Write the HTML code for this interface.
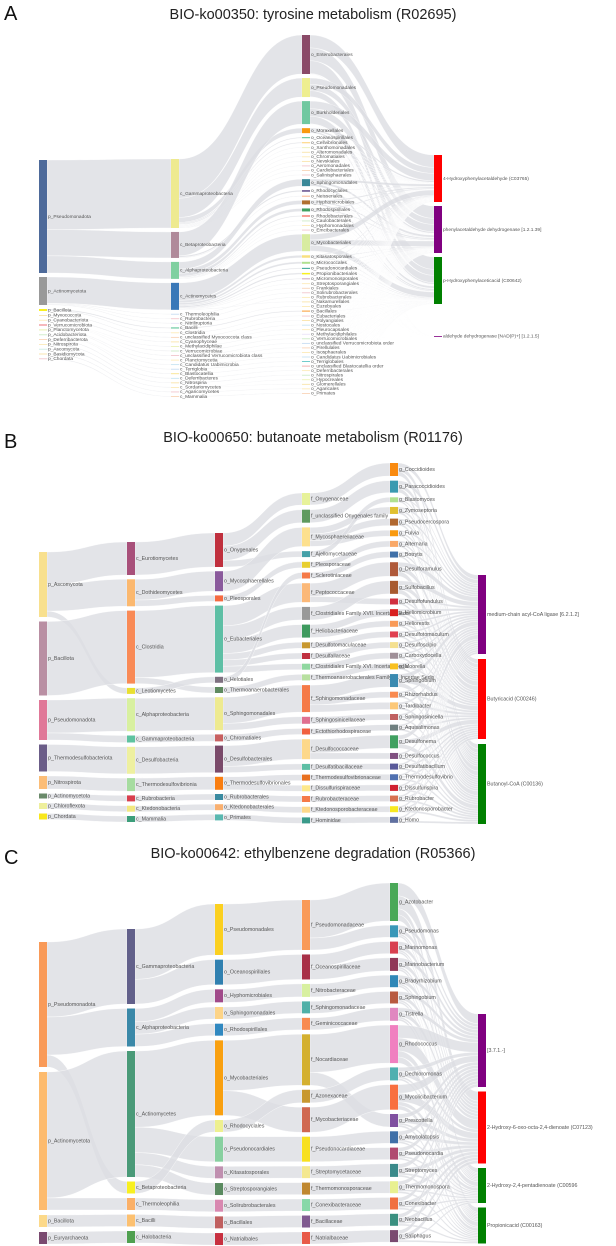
<!DOCTYPE html>
<html><head><meta charset="utf-8"><title>Sankey diagrams</title>
<style>
html,body{margin:0;padding:0;background:#fff;}
svg{display:block;font-family:"Liberation Sans",sans-serif;}
</style></head>
<body>
<svg id="fig" width="616" height="1246" viewBox="0 0 616 1246" xmlns="http://www.w3.org/2000/svg">
<rect width="616" height="1246" fill="#fff"/>
<text x="4" y="20" font-size="20" fill="#111">A</text>
<text x="313" y="19" font-size="14.5" text-anchor="middle" fill="#222">BIO-ko00350: tyrosine metabolism (R02695)</text>
<text x="4" y="448" font-size="20" fill="#111">B</text>
<text x="313" y="442" font-size="14.5" text-anchor="middle" fill="#222">BIO-ko00650: butanoate metabolism (R01176)</text>
<text x="4" y="864" font-size="20" fill="#111">C</text>
<text x="313" y="858" font-size="14.5" text-anchor="middle" fill="#222">BIO-ko00642: ethylbenzene degradation (R05366)</text>
<g id="panelA"></g>
<g id="panelB"></g>
<g id="panelC"></g>
</svg>
<script>
// ===== Panel A data =====
const aPhylumNames = ["p_Pseudomonadota","p_Actinomycetota","p_Bacillota","p_Myxococcota","p_Cyanobacteriota","p_Verrucomicrobiota","p_Planctomycetota","p_Acidobacteriota","p_Deferribacterota","p_Nitrospirota","p_Ascomycota","p_Basidiomycota","p_Chordata"];
const aPhylumValues = [113,28,2,0.8,0.8,0.8,1,0.8,0.8,0.8,0.8,0.8,0.8];
const aPhylumColors = ["#4e6a9a","#999999","#f8f020","#f8e0a0","#fce8b0","#e8505a","#e8f0b0","#c8e8c0","#f8d0b0","#fce8b0","#c8e8e0","#f8e0a0","#f0c0c8"];
const aClassNames = ["c_Gammaproteobacteria","c_Betaproteobacteria","c_Alphaproteobacteria","c_Actinomycetes","c_Thermoleophilia","c_Rubrobacteria","c_Nitriliruptoria","c_Bacilli","c_Clostridia","c_unclassified Myxococcota class","c_Cyanophyceae","c_Methylacidiphilae","c_Verrucomicrobiae","c_unclassified Verrucomicrobiota class","c_Planctomycetia","c_Candidatus Uabimicrobia","c_Terriglobia","c_Blastocatellia","c_Deferribacteres","c_Nitrospiria","c_Sordariomycetes","c_Agaricomycetes","c_Mammalia"];
const aClassValues = [69,26,17,27,0.6,0.6,0.6,1,0.6,0.6,0.6,0.6,0.6,0.6,0.6,0.6,0.6,0.6,0.6,0.6,0.6,0.6,0.6];
const aClassParents = [0,0,0,1,1,1,1,2,2,3,4,5,5,5,6,6,7,7,8,9,10,11,12];
const aClassColors = ["#eeea90","#b08a9a","#80d0a0","#3a78b8","#c0d8f0","#f0c0c8","#e8e0f8","#50c090","#fce8b0","#f8d0b0","#f8e0a0","#e8f0b0","#c8e8c0","#f0c0c8","#fce8b0","#c0e0f0","#c0d8f0","#f8e080","#c0e0f0","#f8e0a0","#fce8b0","#f0c0c8","#f8d0b0"];
const aOrderNames = ["o_Enterobacterales","o_Pseudomonadales","o_Burkholderiales","o_Moraxellales","o_Oceanospirillales","o_Cellvibrionales","o_Xanthomonadales","o_Alteromonadales","o_Chromatiales","o_Nevskiales","o_Aeromonadales","o_Cardiobacteriales","o_Salinisphaerales","o_Sphingomonadales","o_Rhodocyclales","o_Neisseriales","o_Hyphomicrobiales","o_Rhodospirillales","o_Rhodobacterales","o_Caulobacterales","o_Hyphomonadales","o_Emcibacterales","o_Mycobacteriales","o_Kitasatosporales","o_Micrococcales","o_Pseudonocardiales","o_Propionibacteriales","o_Micromonosporales","o_Streptosporangiales","o_Frankiales","o_Solirubrobacterales","o_Rubrobacterales","o_Nakamurellales","o_Euzebyales","o_Bacillales","o_Eubacteriales","o_Polyangiales","o_Nostocales","o_Pleurocapsales","o_Methylacidiphilales","o_Verrucomicrobiales","o_unclassified Verrucomicrobiota order","o_Pirellulales","o_Isosphaerales","o_Candidatus Uabimicrobiales","o_Terriglobales","o_unclassified Blastocatellia order","o_Deferribacterales","o_Nitrospirales","o_Hypocreales","o_Glomerellales","o_Agaricales","o_Primates"];
const aOrderValues = [39,19,23,5,1,1,0.5,0.5,0.5,0.5,0.5,0.5,0.5,7,1.5,0.6,4,3,1,0.5,0.5,0.5,17,2.5,2,1,1.5,0.8,0.5,0.5,0.5,0.5,0.5,0.5,1,0.5,0.5,0.5,0.5,0.5,0.5,0.5,0.5,0.5,0.5,0.5,0.5,0.5,0.5,0.5,0.5,0.5,0.5];
const aOrderParents = [0,0,1,0,0,0,0,0,0,0,0,0,0,2,1,1,2,2,2,2,2,2,3,3,3,3,3,3,3,3,4,5,3,6,7,8,9,10,10,11,12,13,14,14,15,16,17,18,19,20,20,21,22];
const aOrderColors = ["#8a4a68","#eeee90","#70c8a0","#f99a10","#50c090","#fdd070","#e8f0b0","#f8e0a0","#fce8b0","#f8e0a0","#f0c0c8","#f8d0b0","#f0c0c8","#3a8898","#604a8a","#f8a070","#b07030","#40a060","#f04030","#c8e8c0","#fce8b0","#f0c0c8","#d8eca0","#f8e080","#b0e090","#30a090","#f8f020","#c090b0","#fce8b0","#f8d0b0","#f0c0c8","#fce8b0","#f8e0a0","#fce8b0","#f99a30","#f0c0c8","#f8e0a0","#c0e0f0","#fce8b0","#e8e0f8","#c8e8c0","#c0d8f0","#f8d0b0","#fce8b0","#c0e0f0","#50c0c0","#f0a0a0","#fce8b0","#c8e8c0","#e8f0b0","#f8e0a0","#fce8b0","#f8d0b0"];
const aProductNames = ["4-Hydroxyphenylacetaldehyde (C03765)","phenylacetaldehyde dehydrogenase [1.2.1.39]","p-Hydroxyphenylaceticacid (C00642)","aldehyde dehydrogenase [NAD(P)+] [1.2.1.5]"];
const aProductValues = [47,47,47,0.8];
const aProductShares = [0.33,0.33,0.33,0.01];
const aProductColors = ["#ff0000","#800080","#008000","#800080"];

// ===== Panel B data =====
const bPhylumNames = ["p_Ascomycota","p_Bacillota","p_Pseudomonadota","p_Thermodesulfobacteriota","p_Nitrospirota","p_Actinomycetota","p_Chloroflexota","p_Chordata"];
const bPhylumValues = [65,74,40,27,13,5,6,6];
const bPhylumColors = ["#f8e08e","#b98fa3","#e07898","#6b5d88","#fbbd77","#6a8a6a","#eeef9c","#f8e71c"];
const bClassNames = ["c_Eurotiomycetes","c_Dothideomycetes","c_Clostridia","c_Leotiomycetes","c_Alphaproteobacteria","c_Gammaproteobacteria","c_Desulfobacteria","c_Thermodesulfovibrionia","c_Rubrobacteria","c_Ktedonobacteria","c_Mammalia"];
const bClassValues = [33,27,73,6,33,7,27,13,6,6,6];
const bClassParents = [0,0,1,0,2,2,3,4,5,6,7];
const bClassColors = ["#a8507a","#fbb86f","#f98a56","#e9e030","#d8f0a0","#5ec3a0","#eef0a0","#a6dca0","#d83e4d","#f2e880","#3c9e7a"];
const bOrderNames = ["o_Onygenales","o_Mycosphaerellales","o_Pleosporales","o_Eubacteriales","o_Helotiales","o_Thermoanaerobacterales","o_Sphingomonadales","o_Chromatiales","o_Desulfobacterales","o_Thermodesulfovibrionales","o_Rubrobacterales","o_Ktedonobacterales","o_Primates"];
const bOrderValues = [34,20,6,67,6,6,33,7,27,13,6,6,6];
const bOrderParents = [0,1,1,2,3,2,4,5,6,7,8,9,10];
const bOrderColors = ["#c0303e","#8a5a9c","#f56a40","#5ebfa5","#7e7080","#5f8a60","#eeea90","#c86060","#7a4a6a","#f97e10","#3a8aa0","#f9b070","#5ab8b0"];
const bFamilyNames = ["f_Onygenaceae","f_unclassified Onygenales family","f_Mycosphaerellaceae","f_Ajellomycetaceae","f_Pleosporaceae","f_Sclerotiniaceae","f_Peptococcaceae","f_Clostridiales Family XVII. Incertae Sedis","f_Heliobacteriaceae","f_Desulfotomaculaceae","f_Desulfallaceae","f_Clostridiales Family XVI. Incertae Sedis","f_Thermoanaerobacterales Family IV. Incertae Sedis","f_Sphingomonadaceae","f_Sphingosinicellaceae","f_Ectothiorhodospiraceae","f_Desulfococcaceae","f_Desulfatibacillaceae","f_Thermodesulfovibrionaceae","f_Dissulfurispiraceae","f_Rubrobacteraceae","f_Ktedonosporobacteraceae","f_Hominidae"];
const bFamilyValues = [12,13,19,6,6,6,19,13,13,6,6,6,6,27,7,6,20,6,6,6,6,6,6];
const bFamilyParents = [0,0,1,0,2,4,3,3,3,3,3,3,5,6,6,7,8,8,9,9,10,11,12];
const bFamilyColors = ["#e7f29a","#5f9a5f","#fde08e","#44a0a8","#e8cf30","#f57a48","#fbb878","#999999","#3e9a5e","#c89830","#c03040","#90d8a0","#b8e0a0","#f57a48","#e07090","#f06040","#fdd88a","#5ebfa5","#e87020","#fde88a","#f57a48","#fdd88a","#3a9a8a"];
const bGenusNames = ["g_Coccidioides","g_Paracoccidioides","g_Blastomyces","g_Zymoseptoria","g_Pseudocercospora","g_Fulvia","g_Alternaria","g_Botrytis","g_Desulforamulus","g_Sulfobacillus","g_Desulfofundulus","g_Heliomicrobium","g_Heliorestis","g_Desulfotomaculum","g_Desulfoscipio","g_Carboxydocella","g_Moorella","g_Sphingobium","g_Rhizorhabdus","g_Tardibacter","g_Sphingosinicella","g_Aquisalimonas","g_Desulfonema","g_Desulfococcus","g_Desulfatibacillum","g_Thermodesulfovibrio","g_Dissulfurispira","g_Rubrobacter","g_Ktedonosporobacter","g_Homo"];
const bGenusValues = [13,12,5,7,7,6,6,6,14,13,6,7,6,6,6,6,6,13,6,7,6,6,13,6,6,6,6,6,6,6];
const bGenusParents = [0,1,3,2,2,2,4,5,6,7,6,8,8,9,10,11,12,13,13,13,14,15,16,16,17,18,19,20,21,22];
const bGenusColors = ["#f98a10","#3a9ab0","#b0e090","#e0c030","#b06830","#f99a10","#f9a868","#4070a8","#b05a3a","#a85a30","#d03040","#d82020","#f99a58","#e04050","#f4e090","#a09098","#f8c020","#3a8ab0","#f98a50","#fcc878","#c06060","#708080","#40a060","#805080","#5a5a9a","#5070b0","#d02030","#d87050","#f8e820","#6070a0"];
const bProductNames = ["medium-chain acyl-CoA ligase [6.2.1.2]","Butyricacid (C00246)","Butanoyl-CoA (C00136)"];
const bProductValues = [79,80,80];
const bProductShares = [0.33,0.335,0.335];
const bProductColors = ["#800080","#ff0000","#008000"];

// ===== Panel C data =====
const cPhylumNames = ["p_Pseudomonadota","p_Actinomycetota","p_Bacillota","p_Euryarchaeota"];
const cPhylumValues = [125,138,12,12];
const cPhylumColors = ["#f99a58","#fdbb6e","#fcd98a","#7a4a70"];
const cClassNames = ["c_Gammaproteobacteria","c_Alphaproteobacteria","c_Actinomycetes","c_Betaproteobacteria","c_Thermoleophilia","c_Bacilli","c_Halobacteria"];
const cClassValues = [75,38,126,12,12,12,12];
const cClassParents = [0,0,1,0,1,2,3];
const cClassColors = ["#62608a","#3a88a8","#4a9a78","#f8f020","#fbb068","#fcc070","#50a050"];
const cOrderNames = ["o_Pseudomonadales","o_Oceanospirillales","o_Hyphomicrobiales","o_Sphingomonadales","o_Rhodospirillales","o_Mycobacteriales","o_Rhodocyclales","o_Pseudonocardiales","o_Kitasatosporales","o_Streptosporangiales","o_Solirubrobacterales","o_Bacillales","o_Natrialbales"];
const cOrderValues = [51,25,13,12,12,75,12,25,12,12,12,12,12];
const cOrderParents = [0,0,1,1,1,2,3,2,2,2,4,5,6];
const cOrderColors = ["#fbd020","#3080b0","#a04a8a","#fdd488","#3088c0","#f9a010","#eef090","#88d0a0","#c090b0","#5a8a60","#d888b0","#c06060","#c83040"];
const cFamilyNames = ["f_Pseudomonadaceae","f_Oceanospirillaceae","f_Nitrobacteraceae","f_Sphingomonadaceae","f_Geminicoccaceae","f_Nocardiaceae","f_Azonexaceae","f_Mycobacteriaceae","f_Pseudonocardiaceae","f_Streptomycetaceae","f_Thermomonosporaceae","f_Conexibacteraceae","f_Bacillaceae","f_Natrialbaceae"];
const cFamilyValues = [50,25,13,12,12,51,13,25,25,12,12,12,12,12];
const cFamilyParents = [0,1,2,3,4,5,6,5,7,8,9,10,11,12];
const cFamilyColors = ["#f99a58","#a83048","#d8f0a0","#50b0a8","#f88a50","#d4b030","#c89830","#d06850","#f8e020","#f4e890","#c08830","#88d8a8","#805a90","#e85a48"];
const cGenusNames = ["g_Azotobacter","g_Pseudomonas","g_Marinomonas","g_Marinobacterium","g_Bradyrhizobium","g_Sphingobium","g_Tistrella","g_Rhodococcus","g_Dechloromonas","g_Mycolicibacterium","g_Prescottella","g_Amycolatopsis","g_Pseudonocardia","g_Streptomyces","g_Thermomonospora","g_Conexibacter","g_Neobacillus","g_Saliphagus"];
const cGenusValues = [38,12,12,13,12,12,13,38,13,25,13,12,12,13,12,12,12,12];
const cGenusParents = [0,0,1,1,2,3,4,5,6,7,5,8,8,9,10,11,12,13];
const cGenusColors = ["#4aa858","#3a98b8","#d84050","#903858","#3088b8","#b85a40","#e088c0","#f080c0","#50b0b0","#f87040","#8050a0","#4070a8","#b04a70","#3a8a8a","#e8f090","#f07040","#3a9080","#7a4a70"];
const cProductNames = ["[3.7.1.-]","2-Hydroxy-6-oxo-octa-2,4-dienoate (C07123)","2-Hydroxy-2,4-pentadienoate (C00596","Propionicacid (C00163)"];
const cProductValues = [73,72,35,36];
const cProductShares = [0.34,0.34,0.16,0.16];
const cProductColors = ["#800080","#ff0000","#008000","#008000"];

// ===== Layout (not data) =====
const NS = "http://www.w3.org/2000/svg";
const NODE_W = 8;

function mk(tag, attrs, parent) {
  const el = document.createElementNS(NS, tag);
  for (const k in attrs) el.setAttribute(k, attrs[k]);
  parent.appendChild(el);
  return el;
}

function layoutColumn(values, top, gap, extra) {
  const out = [];
  let y = top;
  values.forEach((v, i) => {
    if (extra && extra[i]) y += extra[i];
    out.push({ y0: y, h: v });
    y += v + gap;
  });
  return out;
}

function bandPath(x0, y0, w0, x1, y1, w1) {
  const xm = (x0 + x1) / 2;
  return `M${x0},${y0} C${xm},${y0} ${xm},${y1} ${x1},${y1} L${x1},${y1 + w1} C${xm},${y1 + w1} ${xm},${y0 + w0} ${x0},${y0 + w0} Z`;
}

function drawSankey(g, cols, prod, L) {
  const linkG = mk("g", {}, g);
  
  
  const nodeG = mk("g", {}, g);
  
  

  const pos = cols.map((c, ci) => layoutColumn(c.values, L.tops[ci], L.gaps[ci], L.extra && L.extra[ci]));
  const prodCi = cols.length;
  const prodPos = layoutColumn(prod.values, L.tops[prodCi], L.gaps[prodCi], L.extra && L.extra[prodCi]);

  // taxonomy links
  for (let ci = 1; ci < cols.length; ci++) {
    const c = cols[ci], pc = cols[ci - 1];
    pc.values.forEach((pv, pi) => {
      const kids = [];
      c.parents.forEach((p, i) => { if (p === pi) kids.push(i); });
      if (!kids.length) return;
      const sum = kids.reduce((s, i) => s + c.values[i], 0);
      const k = pos[ci - 1][pi].h / sum;
      let sy = pos[ci - 1][pi].y0;
      kids.forEach(i => {
        const w0 = c.values[i] * k;
        const p = mk("path", { d: bandPath(L.xs[ci - 1] + NODE_W, sy, w0, L.xs[ci], pos[ci][i].y0, pos[ci][i].h), fill: "#dcdde2", "fill-opacity": "0.8", stroke: "#fff", "stroke-width": "0.35" }, linkG);
        
        
        sy += w0;
      });
    });
  }

  // final links: last taxonomy column -> products
  const lastCi = cols.length - 1, last = cols[lastCi];
  const totals = prod.values.map(() => 0);
  last.values.forEach((v, i) => prod.shares.forEach((s, j) => { totals[j] += pos[lastCi][i].h * s; }));
  const ty = prodPos.map(p => p.y0);
  last.values.forEach((v, i) => {
    let sy = pos[lastCi][i].y0;
    prod.shares.forEach((s, j) => {
      const w0 = pos[lastCi][i].h * s;
      const w1 = w0 * prodPos[j].h / totals[j];
      const p = mk("path", { d: bandPath(L.xs[lastCi] + NODE_W, sy, w0, L.xs[prodCi], ty[j], w1), fill: "#dcdde2", "fill-opacity": "0.8", stroke: "#fff", "stroke-width": "0.3" }, linkG);
      
      
      sy += w0; ty[j] += w1;
    });
  });

  // nodes + labels
  const allCols = cols.concat([{ names: prod.names, colors: prod.colors }]);
  const allPos = pos.concat([prodPos]);
  allCols.forEach((c, ci) => {
    c.names.forEach((name, i) => {
      const p = allPos[ci][i];
      const r = mk("rect", { x: L.xs[ci], y: p.y0, width: NODE_W, height: Math.max(p.h, 0.8), fill: c.colors[i] }, nodeG);
      
      
      const t = mk("text", { x: L.xs[ci] + NODE_W + 1, y: p.y0 + Math.max(p.h, 0.8) / 2, "font-size": L.fs, fill: "#555", "dominant-baseline": "middle" }, nodeG);
      t.textContent = name;
      
      
    });
  });
}

drawSankey(document.getElementById("panelA"), [
  { names: aPhylumNames, values: aPhylumValues, colors: aPhylumColors },
  { names: aClassNames, values: aClassValues, parents: aClassParents, colors: aClassColors },
  { names: aOrderNames, values: aOrderValues, parents: aOrderParents, colors: aOrderColors }
], { names: aProductNames, values: aProductValues, shares: aProductShares, colors: aProductColors },
{ xs: [39, 171, 302, 434], tops: [160, 159, 35, 155], gaps: [4, 3.95, 4.05, 4], fs: 4.8, extra: [null, null, null, {3: 28}] });

drawSankey(document.getElementById("panelB"), [
  { names: bPhylumNames, values: bPhylumValues, colors: bPhylumColors },
  { names: bClassNames, values: bClassValues, parents: bClassParents, colors: bClassColors },
  { names: bOrderNames, values: bOrderValues, parents: bOrderParents, colors: bOrderColors },
  { names: bFamilyNames, values: bFamilyValues, parents: bFamilyParents, colors: bFamilyColors },
  { names: bGenusNames, values: bGenusValues, parents: bGenusParents, colors: bGenusColors }
], { names: bProductNames, values: bProductValues, shares: bProductShares, colors: bProductColors },
{ xs: [39, 127, 215, 302, 390, 478], tops: [552, 542, 533, 493, 463, 575], gaps: [4.5, 4.3, 4.2, 4.7, 4.65, 5], fs: 5.3 });

drawSankey(document.getElementById("panelC"), [
  { names: cPhylumNames, values: cPhylumValues, colors: cPhylumColors },
  { names: cClassNames, values: cClassValues, parents: cClassParents, colors: cClassColors },
  { names: cOrderNames, values: cOrderValues, parents: cOrderParents, colors: cOrderColors },
  { names: cFamilyNames, values: cFamilyValues, parents: cFamilyParents, colors: cFamilyColors },
  { names: cGenusNames, values: cGenusValues, parents: cGenusParents, colors: cGenusColors }
], { names: cProductNames, values: cProductValues, shares: cProductShares, colors: cProductColors },
{ xs: [39, 127, 215, 302, 390, 478], tops: [942, 929, 904, 900, 883, 1014], gaps: [5, 4.5, 4.67, 4.46, 4.3, 4.5], fs: 5.3 });
</script>
</body></html>
